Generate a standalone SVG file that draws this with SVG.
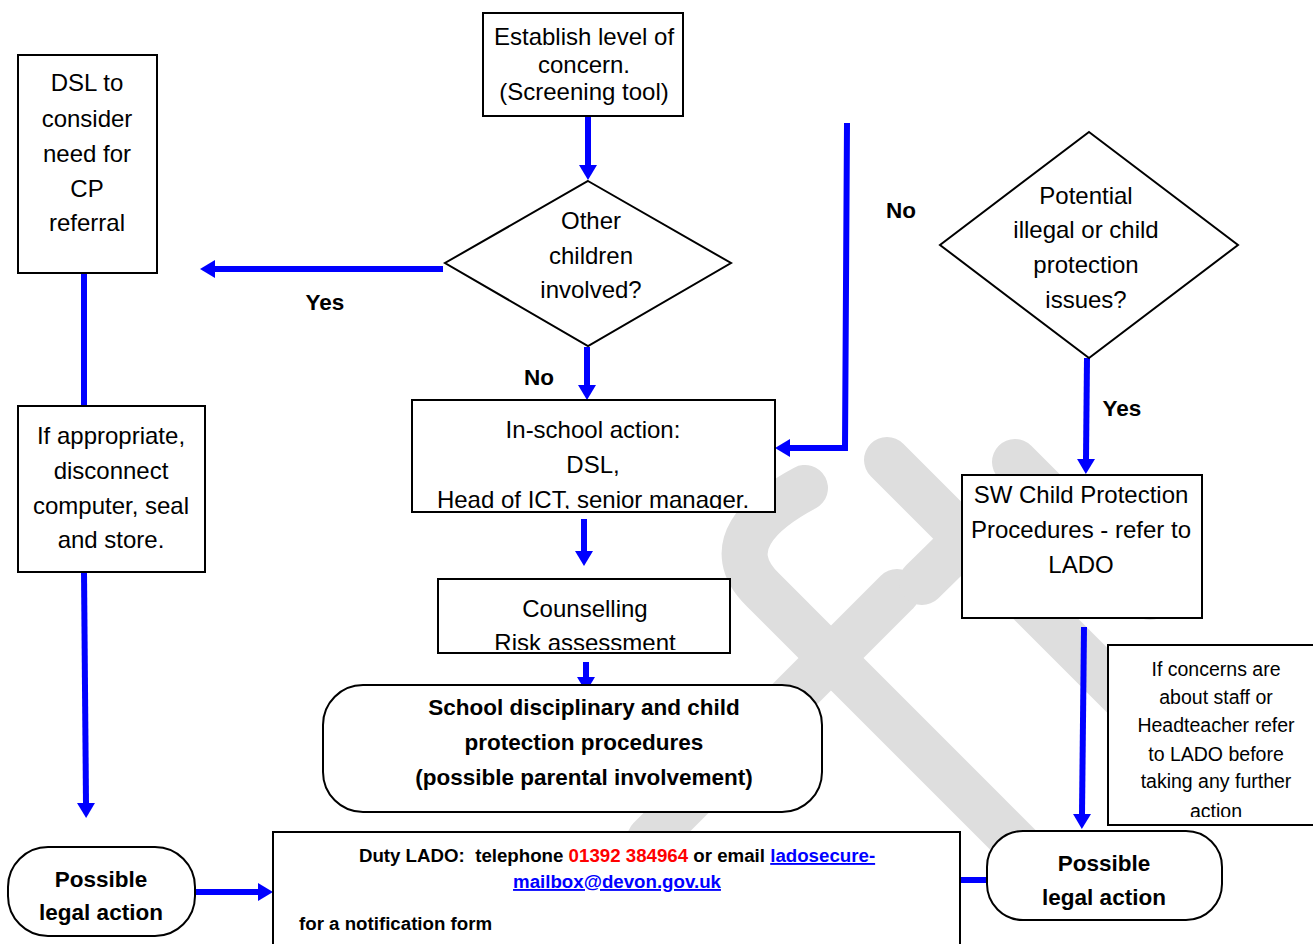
<svg xmlns="http://www.w3.org/2000/svg" width="1313" height="944" viewBox="0 0 1313 944">
<style>
.box{fill:#fff;stroke:#000;stroke-width:2}
.t{font-family:"Liberation Sans",Arial,sans-serif;font-size:24px;text-anchor:middle;fill:#000}
.b{font-weight:bold;font-size:22.5px}
.s{font-size:19.5px}
.l{font-size:18.7px;font-weight:bold}
.red{fill:#ff0000}
.link{fill:#0000ff;text-decoration:underline}
.c{stroke:#0000ff;stroke-width:6;fill:none;stroke-linejoin:miter}
.wm{stroke:#dedede;stroke-width:46;fill:none;stroke-linecap:round}
</style>
<defs>
<marker id="ah" markerUnits="userSpaceOnUse" markerWidth="15" markerHeight="18" refX="0" refY="9" orient="auto" viewBox="0 0 15 18">
<path d="M0,0 L15,9 L0,18 z" fill="#0000ff"/>
</marker>
<clipPath id="cpIn"><rect x="412" y="400" width="364" height="109"/></clipPath>
<clipPath id="cpCo"><rect x="438" y="579" width="293" height="71"/></clipPath>
<clipPath id="cpIf"><rect x="1108" y="645" width="205" height="172"/></clipPath>
</defs>
<rect width="1313" height="944" fill="#fff"/>

<g id="watermark">
<path class="wm" d="M805,488 C760,512 720,548 763,590 L1063,890"/>
<path class="wm" d="M897,592 L650,839"/>
<path class="wm" d="M922,582 L975,530"/>
<path class="wm" d="M887,460 L1200,773"/>
<path class="wm" d="M1015,462 L1150,597"/>
</g>

<g id="connectors">
<line class="c" x1="588" y1="116" x2="588" y2="165" marker-end="url(#ah)"/>
<line class="c" x1="443" y1="269" x2="215" y2="269" marker-end="url(#ah)"/>
<line class="c" x1="587" y1="347" x2="587" y2="385" marker-end="url(#ah)"/>
<line class="c" x1="84" y1="273" x2="84" y2="406"/>
<line class="c" x1="84" y1="572" x2="86" y2="803" marker-end="url(#ah)"/>
<line class="c" x1="195" y1="892" x2="258" y2="892" marker-end="url(#ah)"/>
<polyline class="c" points="847,123 845,448 790,448" marker-end="url(#ah)"/>
<line class="c" x1="1087" y1="358" x2="1086" y2="459" marker-end="url(#ah)"/>
<line class="c" x1="1084" y1="627" x2="1082" y2="814" marker-end="url(#ah)"/>
<line class="c" x1="584" y1="519" x2="584" y2="551" marker-end="url(#ah)"/>
<line class="c" x1="586" y1="662" x2="586" y2="677" marker-end="url(#ah)"/>
<line class="c" x1="958" y1="880" x2="989" y2="880"/>
</g>

<g id="establish">
<rect class="box" x="483" y="13" width="200" height="103"/>
<text class="t" x="584" y="45">Establish level of</text>
<text class="t" x="584" y="73">concern.</text>
<text class="t" x="584" y="100">(Screening tool)</text>
</g>

<g id="other-children">
<polygon class="box" points="588,181 731,263 588,346 445,263"/>
<text class="t" x="591" y="229">Other</text>
<text class="t" x="591" y="264">children</text>
<text class="t" x="591" y="298">involved?</text>
</g>

<g id="dsl-consider">
<rect class="box" x="18" y="55" width="139" height="218"/>
<text class="t" x="87" y="91">DSL to</text>
<text class="t" x="87" y="127">consider</text>
<text class="t" x="87" y="162">need for</text>
<text class="t" x="87" y="197">CP</text>
<text class="t" x="87" y="231">referral</text>
</g>

<g id="if-appropriate">
<rect class="box" x="18" y="406" width="187" height="166"/>
<text class="t" x="111" y="444">If appropriate,</text>
<text class="t" x="111" y="479">disconnect</text>
<text class="t" x="111" y="514">computer, seal</text>
<text class="t" x="111" y="548">and store.</text>
</g>

<g id="in-school">
<rect class="box" x="412" y="400" width="363" height="112"/>
<g clip-path="url(#cpIn)">
<text class="t" x="593" y="438">In-school action:</text>
<text class="t" x="593" y="473">DSL,</text>
<text class="t" x="593" y="508">Head of ICT, senior manager.</text>
</g>
</g>

<g id="counselling">
<rect class="box" x="438" y="579" width="292" height="74"/>
<g clip-path="url(#cpCo)">
<text class="t" x="585" y="617">Counselling</text>
<text class="t" x="585" y="651">Risk assessment</text>
</g>
</g>

<g id="school-procedures">
<rect class="box" x="323" y="685" width="499" height="127" rx="40" ry="40"/>
<text class="t b" x="584" y="715">School disciplinary and child</text>
<text class="t b" x="584" y="750">protection procedures</text>
<text class="t b" x="584" y="785">(possible parental involvement)</text>
</g>

<g id="potential-illegal">
<polygon class="box" points="1089,132 1238,245 1089,358 940,245"/>
<text class="t" x="1086" y="204">Potential</text>
<text class="t" x="1086" y="238">illegal or child</text>
<text class="t" x="1086" y="273">protection</text>
<text class="t" x="1086" y="308">issues?</text>
</g>

<g id="sw-child-protection">
<rect class="box" x="962" y="475" width="240" height="143"/>
<text class="t" x="1081" y="503">SW Child Protection</text>
<text class="t" x="1081" y="538">Procedures - refer to</text>
<text class="t" x="1081" y="573">LADO</text>
</g>

<g id="if-concerns">
<rect class="box" x="1108" y="645" width="215" height="180"/>
<g clip-path="url(#cpIf)">
<text class="t s" x="1216" y="676">If concerns are</text>
<text class="t s" x="1216" y="704">about staff or</text>
<text class="t s" x="1216" y="732">Headteacher refer</text>
<text class="t s" x="1216" y="761">to LADO before</text>
<text class="t s" x="1216" y="788">taking any further</text>
<text class="t s" x="1216" y="818">action</text>
</g>
</g>

<g id="legal-left">
<rect class="box" x="8" y="847" width="187" height="89" rx="40" ry="40"/>
<text class="t b" x="101" y="887">Possible</text>
<text class="t b" x="101" y="920">legal action</text>
</g>

<g id="legal-right">
<rect class="box" x="987" y="831" width="235" height="89" rx="36" ry="36"/>
<text class="t b" x="1104" y="871">Possible</text>
<text class="t b" x="1104" y="905">legal action</text>
</g>

<g id="lado">
<rect class="box" x="273" y="832" width="687" height="130"/>
<text class="t l" x="617" y="862" style="white-space:pre">Duty LADO:  telephone <tspan class="red">01392 384964</tspan> or email <tspan class="link">ladosecure-</tspan></text>
<text class="t l link" x="617" y="888">mailbox@devon.gov.uk</text>
<text class="t l" x="299" y="930" style="text-anchor:start">for a notification form</text>
</g>

<g id="labels">
<text class="t b" x="325" y="310">Yes</text>
<text class="t b" x="539" y="385">No</text>
<text class="t b" x="901" y="218">No</text>
<text class="t b" x="1122" y="416">Yes</text>
</g>
</svg>
